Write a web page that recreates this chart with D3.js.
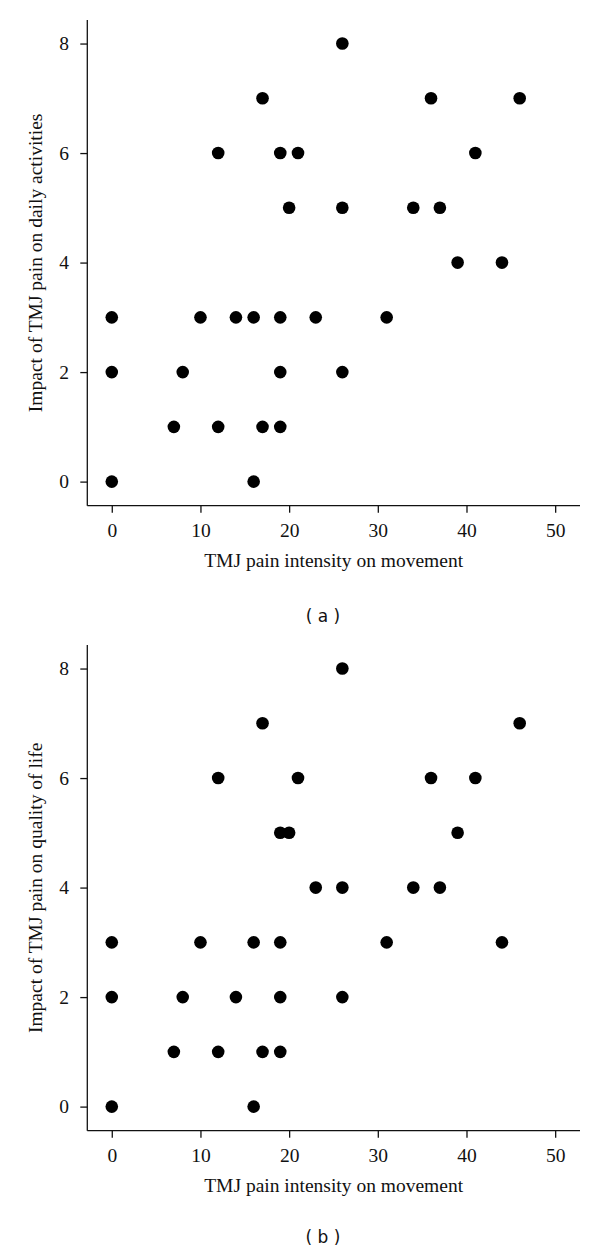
<!DOCTYPE html>
<html>
<head>
<meta charset="utf-8">
<script src="https://d3js.org/d3.v7.min.js"></script>
<style>
body { margin:0; background:#fff; }
.axisline { stroke:#111; stroke-width:1.3; }
.tick line { stroke:#111; stroke-width:1.3; }
.axis-title { font-family:"Liberation Serif", "Times New Roman", serif; font-size:19.5px; fill:#111; }
.caption { font-family:"DejaVu Sans", "Liberation Sans", sans-serif; font-size:17px; fill:#111; }
</style>
</head>
<body>
<div id="chart"></div>
<script>
// data (x = pain intensity, y = impact score)
var xTicks = [0, 10, 20, 30, 40, 50];
var yTicks = [0, 2, 4, 6, 8];
var xLabel = "TMJ pain intensity on movement";

var dailyX = [26, 17, 36, 46, 12, 19, 21, 41, 20, 26, 34, 37, 39, 44, 0, 10, 14, 16, 19, 23, 31, 0, 8, 19, 26, 7, 12, 17, 19, 0, 16];
var dailyY = [8, 7, 7, 7, 6, 6, 6, 6, 5, 5, 5, 5, 4, 4, 3, 3, 3, 3, 3, 3, 3, 2, 2, 2, 2, 1, 1, 1, 1, 0, 0];

var qolX = [26, 17, 46, 12, 21, 36, 41, 19, 20, 39, 23, 26, 34, 37, 0, 10, 16, 19, 31, 44, 0, 8, 14, 19, 26, 7, 12, 17, 19, 0, 16];
var qolY = [8, 7, 7, 6, 6, 6, 6, 5, 5, 5, 4, 4, 4, 4, 3, 3, 3, 3, 3, 3, 2, 2, 2, 2, 2, 1, 1, 1, 1, 0, 0];

var serif = "'Liberation Serif', 'Times New Roman', serif";

var svg = d3.select("#chart").append("svg").attr("width", 600).attr("height", 1249);

function scatterPanel(options)
{
    var top = options.top;
    var left = 87.3, right = 580, plotTop = 20, plotBottom = 505.7;

    var x = d3.scaleLinear().domain([-2.76, 52.8]).range([left, right]);
    var y = d3.scaleLinear().domain([-0.44, 8.43]).range([plotBottom, plotTop]);

    var g = svg.append("g").attr("transform", "translate(0," + top + ")");

    // L shaped box
    g.append("line").attr("class", "axisline")
        .attr("x1", left).attr("x2", left).attr("y1", plotTop).attr("y2", plotBottom);
    g.append("line").attr("class", "axisline")
        .attr("x1", left).attr("x2", right).attr("y1", plotBottom).attr("y2", plotBottom);

    var gx = g.append("g")
        .attr("transform", "translate(0," + plotBottom + ")")
        .call(d3.axisBottom(x).tickValues(xTicks).tickSize(7).tickSizeOuter(0).tickPadding(10.2));
    gx.select(".domain").remove();

    var gy = g.append("g")
        .attr("transform", "translate(" + left + ",0)")
        .call(d3.axisLeft(y).tickValues(yTicks).tickSize(7).tickSizeOuter(0).tickPadding(11.3));
    gy.select(".domain").remove();

    // R style serif tick labels
    g.selectAll(".tick text")
        .attr("font-family", serif)
        .attr("font-size", "19.5px")
        .attr("fill", "#111");

    g.append("text")
        .attr("class", "axis-title")
        .attr("x", (left + right) / 2)
        .attr("y", 566.7)
        .attr("text-anchor", "middle")
        .text(xLabel);

    g.append("text")
        .attr("class", "axis-title")
        .attr("transform", "translate(42," + ((plotTop + plotBottom) / 2) + ") rotate(-90)")
        .attr("text-anchor", "middle")
        .text(options.yLabel);

    g.selectAll("circle.pt")
        .data(options.xs)
        .enter().append("circle")
        .attr("class", "pt")
        .attr("cx", function(d) { return x(d); })
        .attr("cy", function(d, i) { return y(options.ys[i]); })
        .attr("r", 6.3)
        .attr("fill", "#000");

    svg.append("text")
        .attr("class", "caption")
        .attr("x", 323)
        .attr("y", options.captionY)
        .attr("text-anchor", "middle")
        .attr("xml:space", "preserve")
        .text(options.caption);
}

scatterPanel({ top: 0, xs: dailyX, ys: dailyY, yLabel: "Impact of TMJ pain on daily activities", caption: "( a )", captionY: 622 });
scatterPanel({ top: 625, xs: qolX, ys: qolY, yLabel: "Impact of TMJ pain on quality of life", caption: "( b )", captionY: 1243 });
</script>
</body>
</html>
